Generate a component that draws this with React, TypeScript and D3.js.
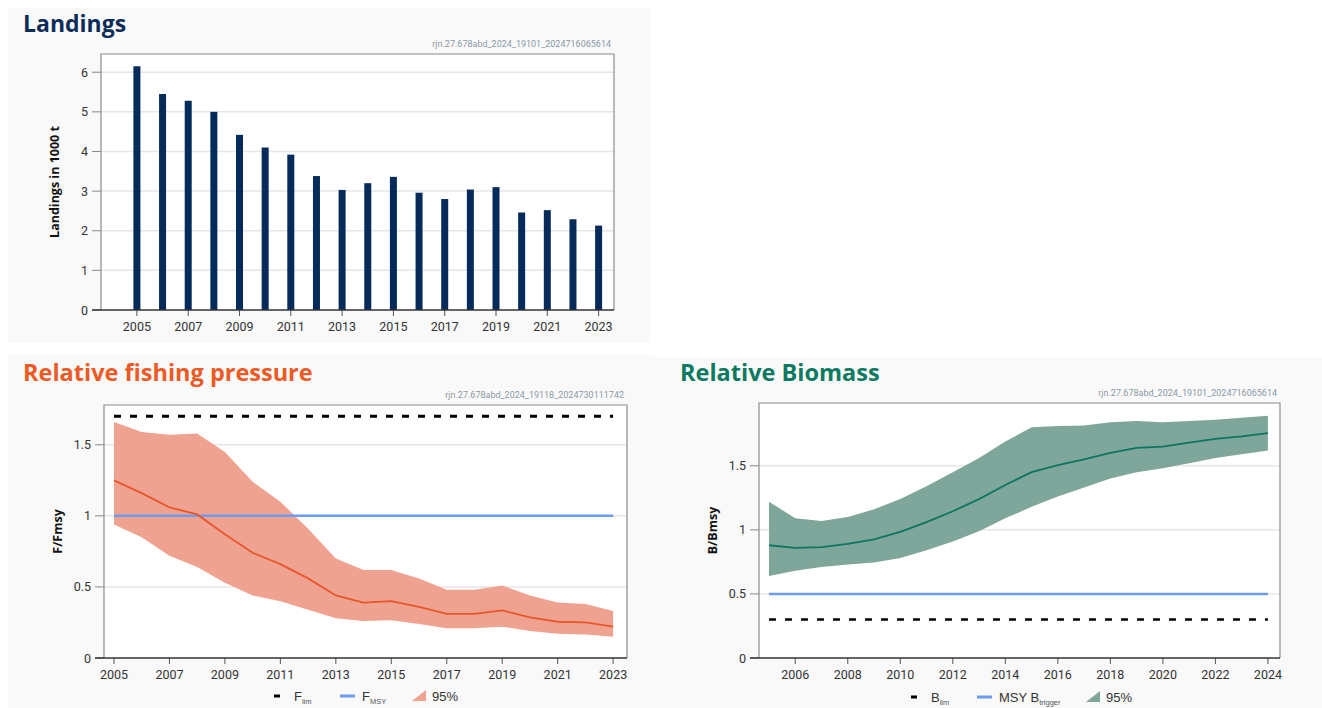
import React from 'react';
import * as d3 from 'd3';

// landings (1000 t)
const landYears = [2005, 2006, 2007, 2008, 2009, 2010, 2011, 2012, 2013, 2014, 2015, 2016, 2017, 2018, 2019, 2020, 2021, 2022, 2023];
const landings = [6.15, 5.45, 5.28, 5.0, 4.42, 4.1, 3.92, 3.38, 3.03, 3.2, 3.36, 2.96, 2.8, 3.04, 3.1, 2.46, 2.52, 2.29, 2.13];
const landTicksX = [2005, 2007, 2009, 2011, 2013, 2015, 2017, 2019, 2021, 2023];
const landTicksY = [0, 1, 2, 3, 4, 5, 6];

// fishing pressure F/Fmsy
const fYears = landYears;
const fMed = [1.25, 1.16, 1.06, 1.01, 0.87, 0.74, 0.66, 0.56, 0.44, 0.39, 0.4, 0.36, 0.31, 0.31, 0.335, 0.285, 0.255, 0.25, 0.22];
const fHigh = [1.66, 1.59, 1.57, 1.58, 1.45, 1.24, 1.1, 0.91, 0.7, 0.62, 0.62, 0.56, 0.48, 0.48, 0.51, 0.44, 0.39, 0.38, 0.33];
const fLow = [0.94, 0.85, 0.72, 0.64, 0.53, 0.44, 0.4, 0.34, 0.28, 0.26, 0.265, 0.24, 0.21, 0.21, 0.22, 0.19, 0.17, 0.165, 0.15];
const fTicksX = landTicksX;
const fTicksY = [0, 0.5, 1, 1.5];
const Flim = 1.7;
const Fmsy = 1;

// biomass B/Bmsy
const bYears = [2005, 2006, 2007, 2008, 2009, 2010, 2011, 2012, 2013, 2014, 2015, 2016, 2017, 2018, 2019, 2020, 2021, 2022, 2023, 2024];
const bMed = [0.88, 0.86, 0.865, 0.89, 0.925, 0.985, 1.06, 1.145, 1.24, 1.35, 1.45, 1.505, 1.55, 1.6, 1.64, 1.65, 1.68, 1.71, 1.73, 1.755];
const bHigh = [1.22, 1.09, 1.07, 1.1, 1.16, 1.24, 1.34, 1.45, 1.56, 1.69, 1.8, 1.81, 1.815, 1.84, 1.85, 1.84, 1.85, 1.86, 1.875, 1.89];
const bLow = [0.64, 0.68, 0.71, 0.73, 0.745, 0.78, 0.84, 0.91, 0.99, 1.09, 1.18, 1.26, 1.33, 1.4, 1.45, 1.48, 1.52, 1.56, 1.59, 1.62];
const bTicksX = [2006, 2008, 2010, 2012, 2014, 2016, 2018, 2020, 2022, 2024];
const bTicksY = [0, 0.5, 1, 1.5];
const Blim = 0.3;
const Btrigger = 0.5;

const TICK_FONT = 'Roboto, "DejaVu Sans", sans-serif';
const TITLE_FONT = '"Open Sans", Lato, sans-serif';
const LEG_FONT = '"Liberation Sans", Arial, sans-serif';

function Axes({ x, y, ticksX, ticksY, fmtY, yLabel, stamp }) {
  const [x0, x1] = x.range();
  const [y0, y1] = y.range();
  const cy = (y0 + y1) / 2;
  return (
    <g>
      <rect x={x0} y={y1} width={x1 - x0} height={y0 - y1} fill="#fff" />
      {ticksY.filter(t => t > 0).map(t => (
        <line key={t} x1={x0} x2={x1} y1={y(t)} y2={y(t)} stroke="#e6e6e6" strokeWidth={1.5} />
      ))}
      <text x={x1 - 3} y={y1 - 7} textAnchor="end" fontSize={9} fill="#8a99a6" fontFamily={TICK_FONT}>{stamp}</text>
      {ticksY.map(t => (
        <g key={t}>
          <line x1={x0 - 9} x2={x0} y1={y(t)} y2={y(t)} stroke="#888" />
          <text x={x0 - 13} y={y(t) + 4.5} textAnchor="end" fontSize={12.5} fill="#333" fontFamily={TICK_FONT}>{fmtY(t)}</text>
        </g>
      ))}
      {ticksX.map(t => (
        <g key={t}>
          <line x1={x(t)} x2={x(t)} y1={y0} y2={y0 + 6} stroke="#555" />
          <text x={x(t)} y={y0 + 21} textAnchor="middle" fontSize={12.5} fill="#333" fontFamily={TICK_FONT}>{t}</text>
        </g>
      ))}
      <text transform={`translate(${x0 - 42},${cy}) rotate(-90)`} textAnchor="middle" fontSize={12.5} fontWeight="bold" fill="#111" fontFamily='"Open Sans", sans-serif'>{yLabel}</text>
    </g>
  );
}

function Frame({ x, y }) {
  const [x0, x1] = x.range();
  const [y0, y1] = y.range();
  return (
    <g fill="none">
      <path d={`M${x0},${y0}V${y1}H${x1}V${y0}`} stroke="#8c8c8c" strokeWidth={1.2} />
      <line x1={x0 - 9} x2={x1} y1={y0} y2={y0} stroke="#333" strokeWidth={1.5} />
    </g>
  );
}

function Landings() {
  const x = d3.scaleLinear().domain([2003.6, 2023.6]).range([101, 614]);
  const y = d3.scaleLinear().domain([0, 6.46]).range([310, 54]);
  return (
    <g>
      <rect x={8} y={8} width={642} height={335} fill="#f9f9f9" />
      <text x={23} y={32} fontSize={23} fontWeight="bold" fill="#0c2c58" fontFamily={TITLE_FONT}>Landings</text>
      <Axes x={x} y={y} ticksX={landTicksX} ticksY={landTicksY} fmtY={d => String(d)} yLabel="Landings in 1000 t" stamp="rjn.27.678abd_2024_19101_2024716065614" />
      {landYears.map((yr, i) => (
        <rect key={yr} x={x(yr) - 3.5} width={7} y={y(landings[i])} height={y(0) - y(landings[i])} fill="#062b5a" />
      ))}
      <Frame x={x} y={y} />
    </g>
  );
}

function Legend({ x0, y0, fill, items }) {
  return (
    <g fontFamily={LEG_FONT} fontSize={13}>
      <line x1={x0} x2={x0 + 6} y1={y0} y2={y0} stroke="#000" strokeWidth={3} />
      <text x={x0 + 20} y={y0 + 5} fill="#333">{items[0][0]}<tspan fill="#555" fontSize={7.5} dy={3}>{items[0][1]}</tspan></text>
      <line x1={x0 + 66} x2={x0 + 81} y1={y0} y2={y0} stroke="#6b9cf0" strokeWidth={3} />
      <text x={x0 + items[1][2]} y={y0 + 5} fill="#333">{items[1][0]}<tspan fill="#555" fontSize={7.5} dy={3}>{items[1][1]}</tspan></text>
      <path d={`M${x0 + items[2]},${y0 + 5}L${x0 + items[2] + 14},${y0 + 5}L${x0 + items[2] + 14},${y0 - 6}Z`} fill={fill} />
      <text x={x0 + items[2] + 20} y={y0 + 5} fill="#333">95%</text>
    </g>
  );
}

function FishingPressure() {
  const x = d3.scaleLinear().domain([2004.64, 2023.5]).range([104, 627]);
  const y = d3.scaleLinear().domain([0, 1.78]).range([658, 405]);
  const band = d3.area<number>().x(i => x(fYears[i])).y0(i => y(fLow[i])).y1(i => y(fHigh[i]));
  const line = d3.line<number>().x(i => x(fYears[i])).y(i => y(fMed[i]));
  const idx = d3.range(fYears.length);
  const xa = x(fYears[0]);
  const xb = x(fYears[fYears.length - 1]);
  return (
    <g>
      <rect x={8} y={355} width={642} height={353} fill="#f9f9f9" />
      <text x={23} y={381} fontSize={23.5} fontWeight="bold" fill="#ec5a26" fontFamily={TITLE_FONT}>Relative fishing pressure</text>
      <Axes x={x} y={y} ticksX={fTicksX} ticksY={fTicksY} fmtY={d => String(d)} yLabel="F/Fmsy" stamp="rjn.27.678abd_2024_19118_2024730111742" />
      <path d={band(idx)} fill="#f0a291" />
      <line x1={xa} x2={xb} y1={y(Fmsy)} y2={y(Fmsy)} stroke="#6b9cf0" strokeWidth={2.5} />
      <path d={line(idx)} fill="none" stroke="#e8562a" strokeWidth={1.8} />
      <line x1={xa} x2={xb} y1={y(Flim)} y2={y(Flim)} stroke="#000" strokeWidth={3} strokeDasharray="7 9" />
      <Frame x={x} y={y} />
      <Legend x0={274} y0={696} fill="#f0a291" items={[['F', 'lim'], ['F', 'MSY', 88], 138]} />
    </g>
  );
}

function Biomass() {
  const x = d3.scaleLinear().domain([2004.62, 2024.46]).range([759, 1280]);
  const y = d3.scaleLinear().domain([0, 1.99]).range([658, 403]);
  const band = d3.area<number>().x(i => x(bYears[i])).y0(i => y(bLow[i])).y1(i => y(bHigh[i]));
  const line = d3.line<number>().x(i => x(bYears[i])).y(i => y(bMed[i]));
  const idx = d3.range(bYears.length);
  const xa = x(bYears[0]);
  const xb = x(bYears[bYears.length - 1]);
  return (
    <g>
      <rect x={650} y={357} width={672} height={351} fill="#f9f9f9" />
      <text x={680} y={381} fontSize={23.5} fontWeight="bold" fill="#0c7a62" fontFamily={TITLE_FONT}>Relative Biomass</text>
      <Axes x={x} y={y} ticksX={bTicksX} ticksY={bTicksY} fmtY={d => String(d)} yLabel="B/Bmsy" stamp="rjn.27.678abd_2024_19101_2024716065614" />
      <path d={band(idx)} fill="#7fa69a" />
      <path d={line(idx)} fill="none" stroke="#0d7560" strokeWidth={1.8} />
      <line x1={xa} x2={xb} y1={y(Btrigger)} y2={y(Btrigger)} stroke="#6b9cf0" strokeWidth={2.5} />
      <line x1={xa} x2={xb} y1={y(Blim)} y2={y(Blim)} stroke="#000" strokeWidth={2.5} strokeDasharray="7 9" />
      <Frame x={x} y={y} />
      <Legend x0={911} y0={697} fill="#7fa69a" items={[['B', 'lim'], ['MSY B', 'trigger', 88], 175]} />
    </g>
  );
}

export default function App() {
  return (
    <div style={{ position: 'absolute', left: 0, top: 0 }}>
      <svg width={1322} height={708} style={{ display: 'block', background: '#fff' }}>
        <Landings />
        <FishingPressure />
        <Biomass />
      </svg>
    </div>
  );
}
